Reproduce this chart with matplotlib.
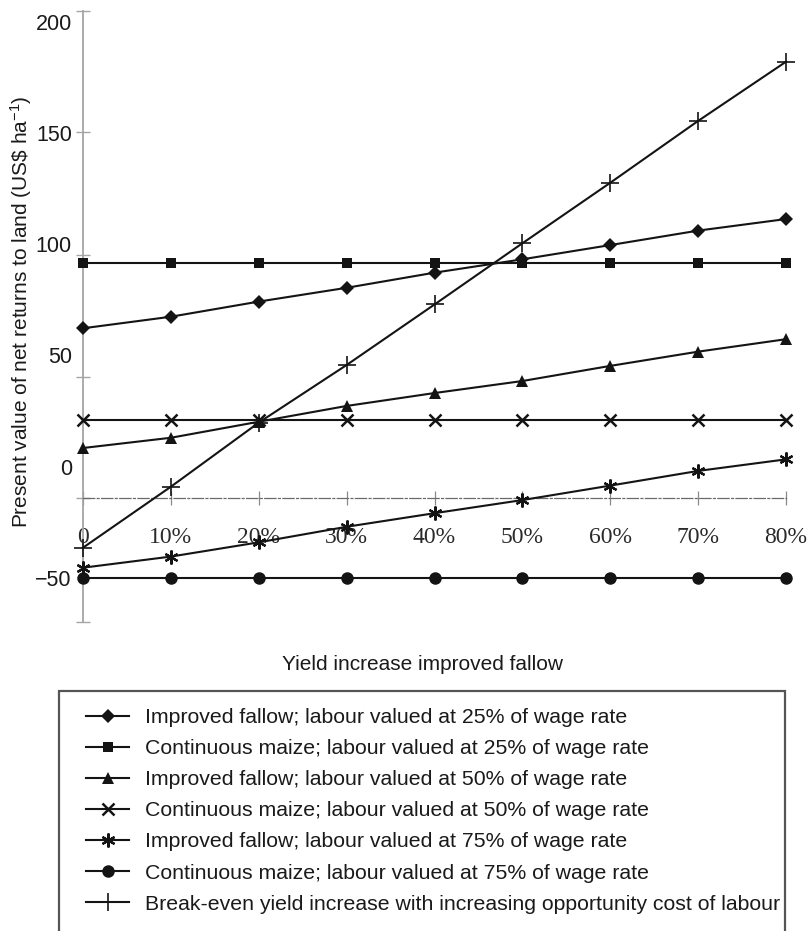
import matplotlib
matplotlib.use("Agg")
import matplotlib.pyplot as plt
from matplotlib.patches import Rectangle

plt.rcParams['font.family'] = ['Liberation Sans', 'DejaVu Sans']
plt.rcParams['mathtext.fontset'] = 'custom'
plt.rcParams['mathtext.rm'] = 'Liberation Sans'
plt.rcParams['mathtext.it'] = 'Liberation Sans:italic'
plt.rcParams['mathtext.bf'] = 'Liberation Sans:bold'

# ---- data ----
yield_increase = [0, 10, 20, 30, 40, 50, 60, 70, 80]
x_tick_labels = ["0", "10%", "20%", "30%", "40%", "50%", "60%", "70%", "80%"]
improved_fallow_25 = [62.2, 67.4, 74.2, 80.4, 87.2, 93.2, 99.6, 106.1, 111.3]
continuous_maize_25 = [91.7, 91.7, 91.7, 91.7, 91.7, 91.7, 91.7, 91.7, 91.7]
improved_fallow_50 = [8.4, 13.0, 20.2, 27.3, 33.1, 38.5, 45.3, 51.7, 57.3]
continuous_maize_50 = [21.0, 21.0, 21.0, 21.0, 21.0, 21.0, 21.0, 21.0, 21.0]
improved_fallow_75 = [-45.4, -40.4, -34.0, -27.0, -20.9, -15.0, -8.5, -1.9, 3.3]
continuous_maize_75 = [-50, -50, -50, -50, -50, -50, -50, -50, -50]
break_even = [-36.4, -9.0, 19.8, 45.7, 72.9, 100.4, 127.6, 155.4, 182.0]

y_tick_labels = [200, 150, 100, 50, 0, -50]
y_tick_marks = [204.8, 150.4, 95.1, 40.3, -14.1, -69.8]
x_axis_level = -14.1

labels = [
    "Improved fallow; labour valued at 25% of wage rate",
    "Continuous maize; labour valued at 25% of wage rate",
    "Improved fallow; labour valued at 50% of wage rate",
    "Continuous maize; labour valued at 50% of wage rate",
    "Improved fallow; labour valued at 75% of wage rate",
    "Continuous maize; labour valued at 75% of wage rate",
    "Break-even yield increase with increasing opportunity cost of labour",
]

W, H = 811, 931
fig = plt.figure(figsize=(W / 100, H / 100), dpi=100)
ax = fig.add_axes([83 / W, 1 - 622 / H, (786 - 83) / W, (622 - 11) / H])

ink = '#141414'
grey = '#a5a5a5'
lw = 1.5
series = [
    (improved_fallow_25, dict(marker='D', ms=7, mew=0)),
    (continuous_maize_25, dict(marker='s', ms=7.5, mew=0)),
    (improved_fallow_50, dict(marker='^', ms=9, mew=0)),
    (continuous_maize_50, dict(marker='x', ms=8.5, mew=1.8)),
    (improved_fallow_75, dict(marker=(6, 2, 0), ms=10, mew=1.6)),
    (continuous_maize_75, dict(marker='o', ms=9, mew=0)),
    (break_even, dict(marker='+', ms=13, mew=1.2)),
]
handles = []
for (vals, kw), lab in zip(series, labels):
    h, = ax.plot(yield_increase, vals, color=ink, lw=lw, mfc=ink, mec=ink,
                 clip_on=False, label=lab, zorder=3, **kw)
    handles.append(h)

ax.set_xlim(0, 80)
ax.set_ylim(y_tick_marks[-1], y_tick_marks[0])

for s in ['top', 'right']:
    ax.spines[s].set_visible(False)
ax.spines['left'].set_color(grey)
ax.spines['left'].set_linewidth(1.3)
ax.spines['bottom'].set_position(('data', x_axis_level))
ax.spines['bottom'].set_color('#6a6a6a')
ax.spines['bottom'].set_linewidth(0.9)
ax.spines['bottom'].set_linestyle((0, (9, 2, 1.5, 2)))

# y axis: labels (no marks) + separate tick marks
ax.set_yticks(y_tick_labels)
ax.set_yticklabels([str(v).replace('-', '\u2212') for v in y_tick_labels])
ax.set_yticks(y_tick_marks, minor=True)
ax.tick_params(axis='y', which='major', length=0, pad=8, labelsize=15.5, labelcolor='#1a1a1a')
ax.tick_params(axis='y', which='minor', direction='inout', length=10, width=1, color=grey)

# x axis
ax.set_xticks(yield_increase)
ax.set_xticklabels(x_tick_labels, family='Liberation Serif', fontsize=17, color='#2a2a2a')
ax.tick_params(axis='x', which='major', direction='inout', length=10, width=0.9,
               color='#8a8a8a', pad=15.5)

ax.set_ylabel(r"Present value of net returns to land (US\$ ha$^{-1}$)", fontsize=15, color='#1a1a1a')
ax.yaxis.set_label_coords((21 - 83) / 703, (622 - 311.5) / 611)
ax.yaxis.label.set_verticalalignment('center')

ax.set_xlabel("Yield increase improved fallow", fontsize=15, color='#1a1a1a')
ax.xaxis.set_label_coords((422 - 83) / 703, -(664 - 622) / 611)
ax.xaxis.label.set_verticalalignment('center')

# legend frame
fig.patches.append(Rectangle((59 / W, 1 - 940 / H), (785 - 59) / W, (940 - 691) / H,
                             transform=fig.transFigure, fill=False,
                             edgecolor='#555555', lw=1.6))
leg = fig.legend(handles=handles, labels=labels, loc='upper left',
                 bbox_to_anchor=(86 / W, 1 - 708 / H), frameon=False,
                 fontsize=15.3, borderpad=0, borderaxespad=0,
                 handlelength=2.03, handletextpad=0.75, labelspacing=0.57,
                 numpoints=1)
for t in leg.get_texts():
    t.set_color('#1a1a1a')

fig.savefig('out.png', dpi=100)
